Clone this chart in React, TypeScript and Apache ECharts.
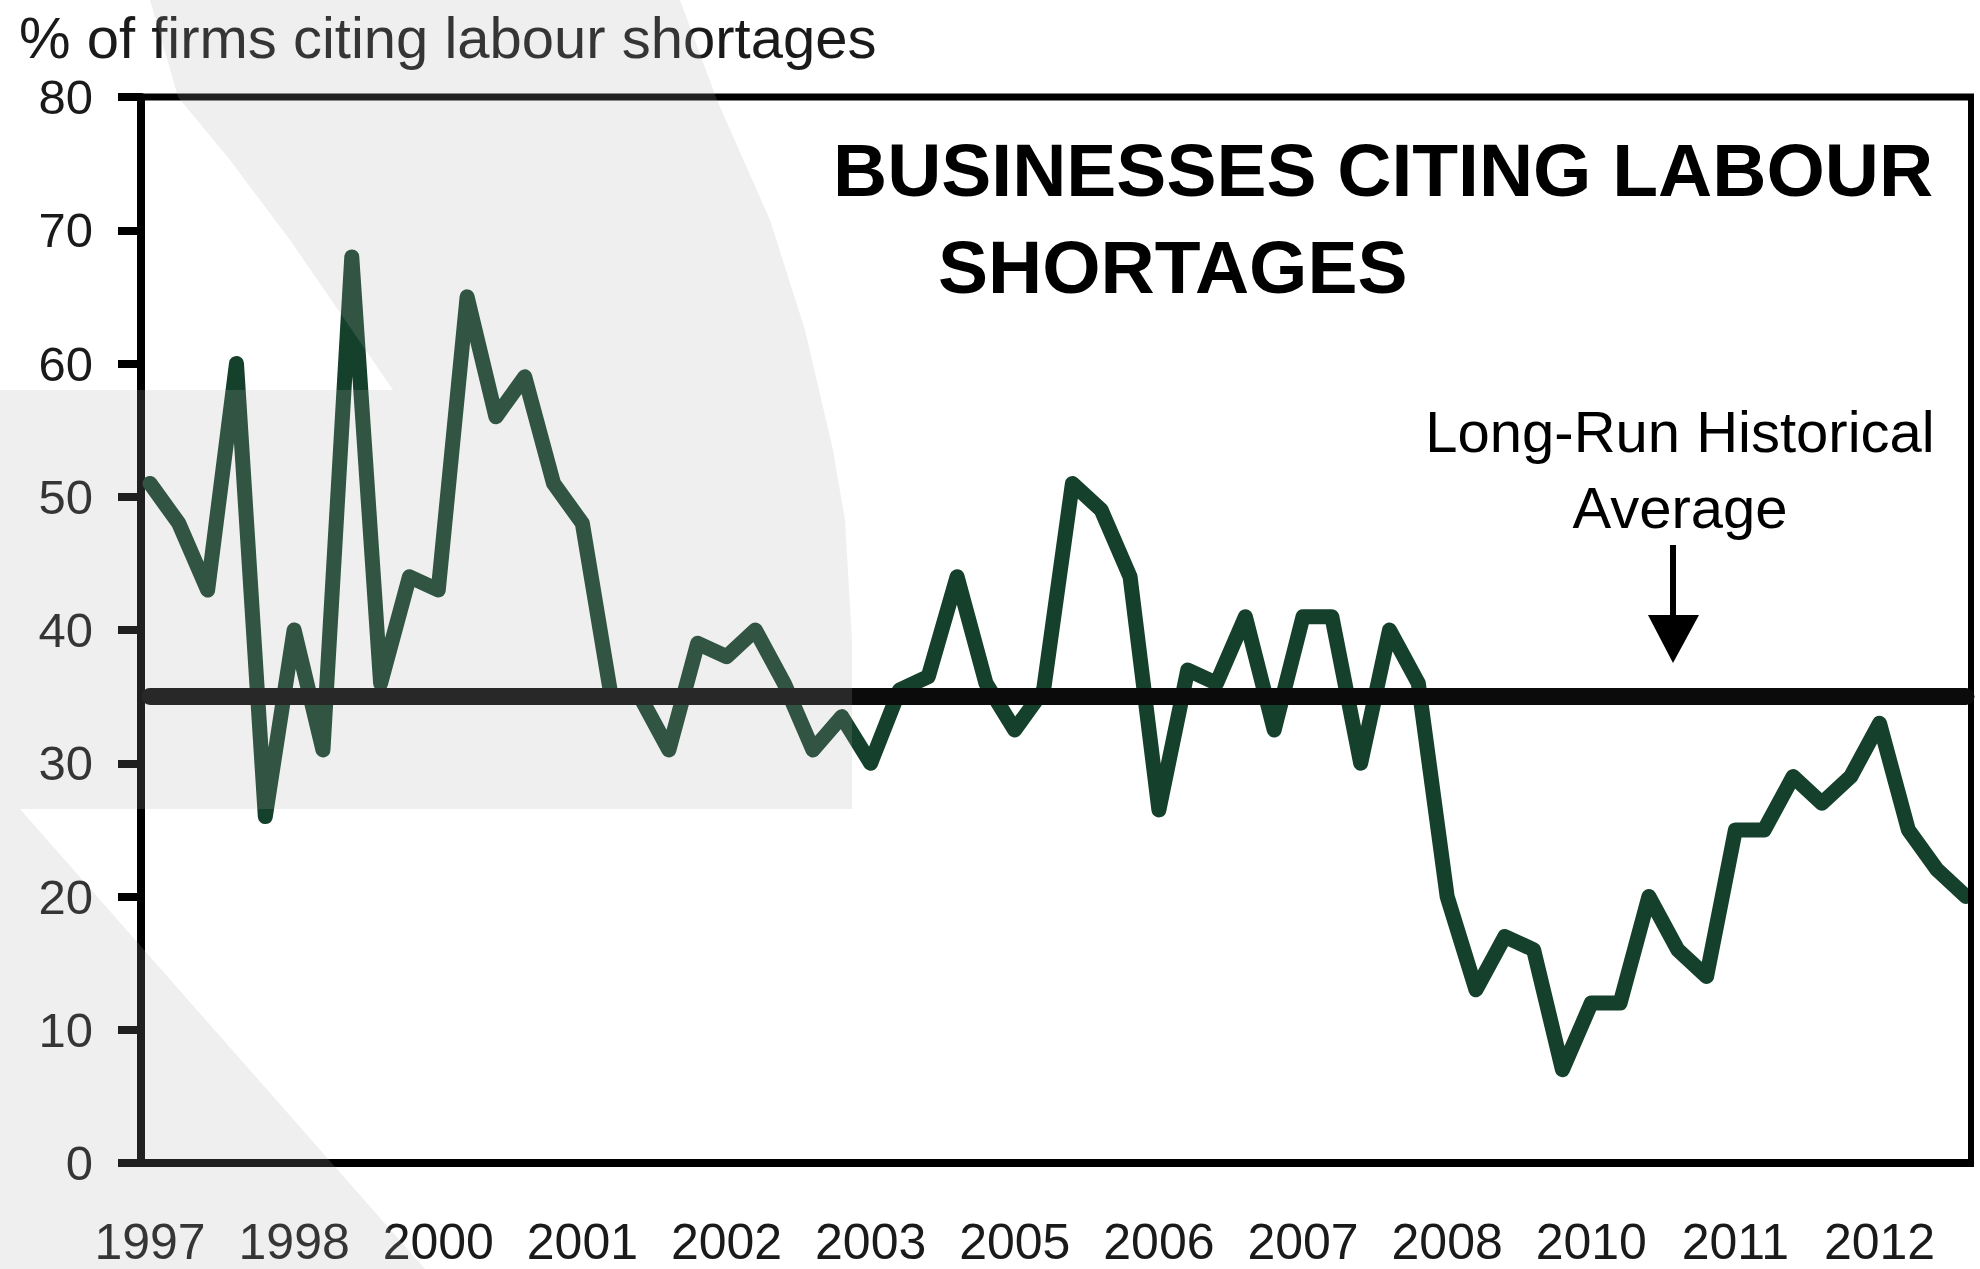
import React, { useEffect, useRef } from "react";
import * as echarts from "echarts";

// ---- Data ----
const TICK_LABELS = ["1997", "1998", "2000", "2001", "2002", "2003", "2005", "2006", "2007", "2008", "2010", "2011", "2012"];
const LABEL_EVERY = 5;
const SHORTAGES = [
  51, 48, 43, 60, 26, 40, 31, 68, 36, 44,
  43, 65, 56, 59, 51, 48, 35, 35, 31, 39,
  38, 40, 36, 31, 33.5, 30, 35.5, 36.5, 44, 36,
  32.5, 35.5, 51, 49, 44, 26.5, 37, 36, 41, 32.5,
  41, 41, 30, 40, 36, 20, 13, 17, 16, 7,
  12, 12, 20, 16, 14, 25, 25, 29, 27, 29,
  33, 25, 22, 20,
];
const LONG_RUN_AVERAGE = 35;
const Y_MIN = 0;
const Y_MAX = 80;
const Y_STEP = 10;
const CATEGORIES = SHORTAGES.map((_, i) => `${1997 + Math.floor(i / 4)} Q${(i % 4) + 1}`);

const AXIS_TITLE = "% of firms citing labour shortages";
const TITLE_LINE_1 = "BUSINESSES CITING LABOUR";
const TITLE_LINE_2 = "SHORTAGES";
const NOTE_LINE_1 = "Long-Run Historical";
const NOTE_LINE_2 = "Average";

const FONT = "'Liberation Sans', Arial, Helvetica, sans-serif";
const WM = "rgba(170,170,170,0.19)";

export default function App() {
  const ref = useRef<HTMLDivElement>(null);

  useEffect(() => {
    if (!ref.current) return;
    const chart = echarts.init(ref.current, undefined, { renderer: "svg" });

    const option: any = {
      animation: false,
      backgroundColor: "#ffffff",
      grid: { left: 150, right: 14, top: 97, bottom: 106, containLabel: false },
      xAxis: {
        type: "category",
        data: CATEGORIES,
        boundaryGap: false,
        axisLine: { show: false },
        axisTick: { show: false },
        splitLine: { show: false },
        axisLabel: {
          interval: LABEL_EVERY - 1,
          formatter: (_v: string, i: number) => (i % LABEL_EVERY === 0 ? TICK_LABELS[i / LABEL_EVERY] ?? "" : ""),
          margin: 54,
          fontSize: 50,
          color: "#1a1a1a",
          fontFamily: FONT,
        },
      },
      yAxis: {
        type: "value",
        min: Y_MIN,
        max: Y_MAX,
        interval: Y_STEP,
        offset: 9,
        axisLine: { show: true, lineStyle: { color: "#000", width: 8 } },
        axisTick: { show: true, length: 23, lineStyle: { color: "#000", width: 8 } },
        splitLine: { show: false },
        axisLabel: { margin: 48, fontSize: 49, color: "#1a1a1a", fontFamily: FONT },
      },
      series: [
        {
          type: "line",
          data: SHORTAGES,
          symbol: "none",
          z: 2,
          lineStyle: { color: "#15402c", width: 15, join: "round", cap: "round" },
          markLine: {
            silent: true,
            symbol: "none",
            label: { show: false },
            lineStyle: { color: "#0b0b0b", width: 17, type: "solid", cap: "round" },
            data: [{ yAxis: LONG_RUN_AVERAGE }],
          },
        },
      ],
      graphic: [
        // frame
        { type: "line", z: 5, shape: { x1: 118, y1: 97, x2: 1974, y2: 97 }, style: { stroke: "#000", lineWidth: 7 } },
        { type: "line", z: 5, shape: { x1: 1971, y1: 97, x2: 1971, y2: 1166 }, style: { stroke: "#000", lineWidth: 6 } },
        { type: "line", z: 5, shape: { x1: 118, y1: 1163, x2: 1974, y2: 1163 }, style: { stroke: "#000", lineWidth: 8 } },
        // texts
        {
          type: "text", z: 5, x: 19, y: 37,
          style: { text: AXIS_TITLE, fill: "#1a1a1a", font: `58px ${FONT}`, align: "left", verticalAlign: "middle" },
        },
        {
          type: "text", z: 5, x: 833, y: 170,
          style: { text: TITLE_LINE_1, fill: "#000", font: `bold 75px ${FONT}`, align: "left", verticalAlign: "middle" },
        },
        {
          type: "text", z: 5, x: 938, y: 267,
          style: { text: TITLE_LINE_2, fill: "#000", font: `bold 75px ${FONT}`, align: "left", verticalAlign: "middle" },
        },
        {
          type: "text", z: 5, x: 1680, y: 431,
          style: { text: NOTE_LINE_1, fill: "#000", font: `58px ${FONT}`, align: "center", verticalAlign: "middle" },
        },
        {
          type: "text", z: 5, x: 1680, y: 507,
          style: { text: NOTE_LINE_2, fill: "#000", font: `58px ${FONT}`, align: "center", verticalAlign: "middle" },
        },
        // arrow
        { type: "line", z: 5, shape: { x1: 1673, y1: 545, x2: 1673, y2: 622 }, style: { stroke: "#000", lineWidth: 6 } },
        { type: "polygon", z: 5, shape: { points: [[1648, 615], [1699, 615], [1673, 663]] }, style: { fill: "#000" } },
        // watermark overlay
        {
          type: "polygon", z: 100, silent: true,
          shape: {
            points: [
              [150, 0], [178, 97], [230, 160], [290, 240], [345, 320], [393, 390],
              [0, 390], [0, 809], [852, 809], [852, 640], [845, 520], [833, 450],
              [805, 330], [770, 220], [717, 100], [680, 0],
            ],
          },
          style: { fill: WM },
        },
        {
          type: "polygon", z: 100, silent: true,
          shape: { points: [[0, 809], [20, 809], [425, 1269], [0, 1269]] },
          style: { fill: WM },
        },
      ],
    };

    chart.setOption(option);
    return () => chart.dispose();
  }, []);

  return (
    <div
      ref={ref}
      style={{ position: "absolute", left: 0, top: 0, width: 1980, height: 1269, background: "#fff" }}
    />
  );
}
